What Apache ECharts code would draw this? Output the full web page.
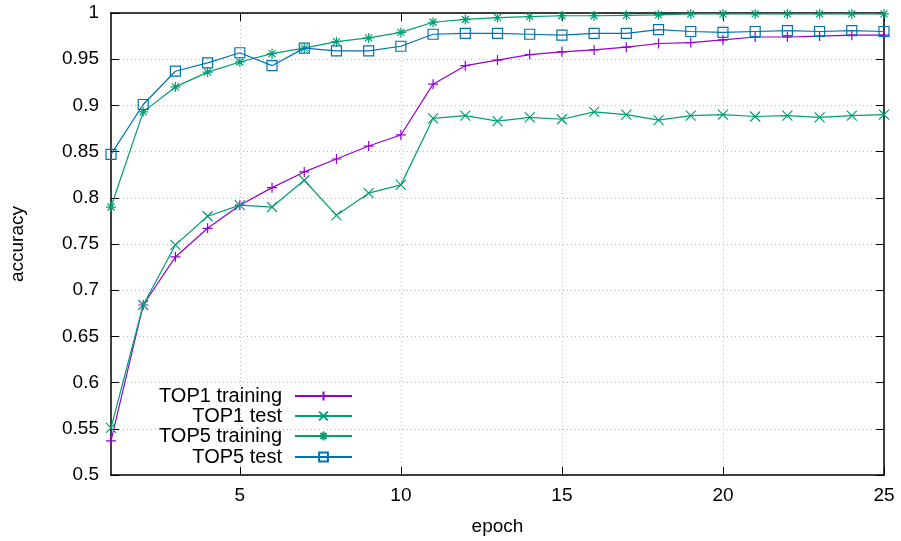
<!DOCTYPE html>
<html>
<head>
<meta charset="utf-8">
<script src="https://cdn.jsdelivr.net/npm/echarts@6/dist/echarts.min.js"></script>
<style>
html,body{margin:0;padding:0;background:#fff;}
#chart{width:901px;height:541px;}
</style>
</head>
<body>
<div id="chart"></div>
<script>
const epochs = [1,2,3,4,5,6,7,8,9,10,11,12,13,14,15,16,17,18,19,20,21,22,23,24,25];
const top1Train = [0.537,0.684,0.736,0.767,0.792,0.811,0.828,0.842,0.856,0.868,0.923,0.943,0.949,0.955,0.958,0.960,0.963,0.967,0.968,0.971,0.974,0.974,0.975,0.976,0.976];
const top1Test = [0.551,0.684,0.749,0.780,0.792,0.790,0.819,0.781,0.805,0.814,0.886,0.889,0.883,0.887,0.885,0.893,0.890,0.884,0.889,0.890,0.888,0.889,0.887,0.889,0.890];
const top5Train = [0.790,0.893,0.920,0.936,0.947,0.956,0.962,0.969,0.973,0.979,0.990,0.993,0.995,0.996,0.997,0.997,0.9975,0.998,0.999,0.999,0.999,0.999,0.999,0.999,0.999];
const top5Test = [0.847,0.901,0.937,0.946,0.957,0.943,0.962,0.959,0.959,0.964,0.977,0.978,0.978,0.977,0.976,0.978,0.978,0.982,0.980,0.979,0.980,0.981,0.980,0.981,0.980];
const seriesNames = ['TOP1 training','TOP1 test','TOP5 training','TOP5 test'];
const xTickValues = [5,10,15,20,25];

const FONT = '"Liberation Sans", Arial, sans-serif';
const colors = ['#9400d3','#009e73','#009e73','#0072b2'];
const symbols = [
  'path://M0 5 L10 5 M5 0 L5 10',
  'path://M0 0 L10 10 M10 0 L0 10',
  'path://M0 5 L10 5 M5 0 L5 10 M1.5 1.5 L8.5 8.5 M8.5 1.5 L1.5 8.5',
  'path://M0 0 L10 0 L10 10 L0 10 Z'
];
const symbolSizes = [10, 10, 10, 10];
const fills = ['#9400d3','#009e73','#009e73','rgba(255,255,255,0)'];
const allData = [top1Train, top1Test, top5Train, top5Test];

const chart = echarts.init(document.getElementById('chart'), null, {renderer:'canvas'});

const gridLine = {show:true, lineStyle:{color:'#b8b8b8', type:[1,3], width:1}};

const series = seriesNames.map((name, k) => ({
  name: name,
  type: 'line',
  xAxisIndex: 0,
  yAxisIndex: 0,
  data: epochs.map((e, i) => [e, allData[k][i]]),
  symbol: symbols[k],
  symbolSize: symbolSizes[k],
  showAllSymbol: true,
  clip: false,
  z: 3 + k,
  color: colors[k],
  lineStyle: {color: colors[k], width: 1.2},
  itemStyle: {color: fills[k], borderColor: colors[k], borderWidth: 1.2},
  emphasis: {disabled: true},
  animation: false
}));

const legendTops = [386, 406, 426, 447];
const legends = seriesNames.map((name, k) => ({
  data: [name],
  orient: 'vertical',
  align: 'right',
  right: 548,
  top: legendTops[k],
  padding: 0,
  itemWidth: 57,
  itemHeight: 11,
  selectedMode: false,
  textStyle: {fontFamily: FONT, fontSize: 20, color: '#000', lineHeight: 20, padding: [0, 8, 0, 0]}
}));

chart.setOption({
  animation: false,
  backgroundColor: '#fff',
  grid: {left: 111, right: 17, top: 13, bottom: 66, containLabel: false},
  legend: legends,
  xAxis: [{
    type: 'value', min: 1, max: 25, position: 'bottom',
    name: 'epoch', nameLocation: 'middle', nameGap: 42,
    nameTextStyle: {fontFamily: FONT, fontSize: 19, color: '#000'},
    axisLine: {show: true, onZero: false, lineStyle: {color: '#000', width: 1.5}},
    axisTick: {show: true, inside: true, length: 8, customValues: xTickValues, lineStyle: {color: '#000', width: 1}},
    axisLabel: {show: true, customValues: xTickValues, margin: 11, fontFamily: FONT, fontSize: 19, color: '#000'},
    splitLine: gridLine
  }, {
    type: 'value', min: 1, max: 25, position: 'top',
    axisLine: {show: true, onZero: false, lineStyle: {color: '#000', width: 1.5}},
    axisTick: {show: true, inside: true, length: 8, customValues: xTickValues, lineStyle: {color: '#000', width: 1}},
    axisLabel: {show: false},
    splitLine: {show: false}
  }],
  yAxis: [{
    type: 'value', min: 0.5, max: 1, interval: 0.05, position: 'left',
    name: 'accuracy', nameLocation: 'middle', nameGap: 84, nameRotate: 90,
    nameTextStyle: {fontFamily: FONT, fontSize: 19, color: '#000'},
    axisLine: {show: true, onZero: false, lineStyle: {color: '#000', width: 1.5}},
    axisTick: {show: true, inside: true, length: 8, lineStyle: {color: '#000', width: 1}},
    axisLabel: {show: true, margin: 12, fontFamily: FONT, fontSize: 19, color: '#000',
      formatter: v => String(+(+v).toFixed(2))},
    splitLine: gridLine
  }, {
    type: 'value', min: 0.5, max: 1, interval: 0.05, position: 'right',
    axisLine: {show: true, onZero: false, lineStyle: {color: '#000', width: 1.5}},
    axisTick: {show: true, inside: true, length: 8, lineStyle: {color: '#000', width: 1}},
    axisLabel: {show: false},
    splitLine: {show: false}
  }],
  series: series
});
</script>
</body>
</html>
